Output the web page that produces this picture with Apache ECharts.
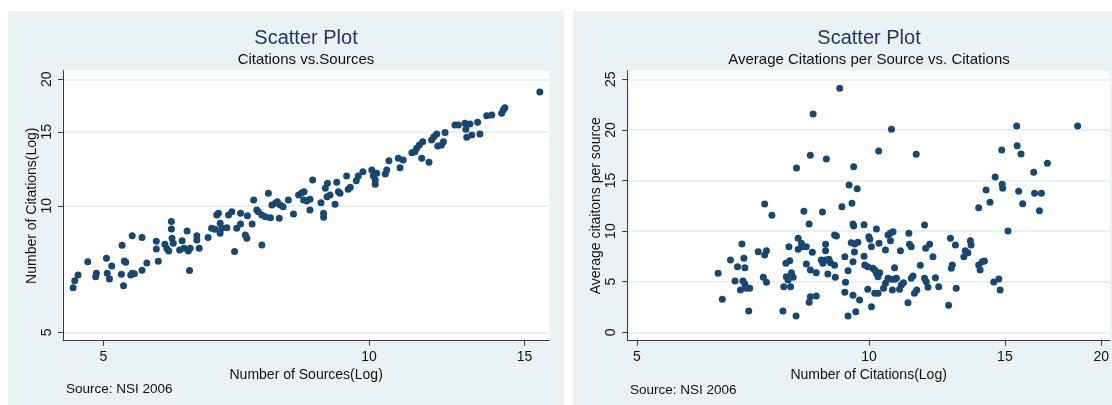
<!DOCTYPE html>
<html><head><meta charset="utf-8">
<script src="https://cdn.jsdelivr.net/npm/echarts@6/dist/echarts.min.js"></script>
<style>html,body{margin:0;padding:0;background:#fff}#c{width:1112px;height:405px}</style>
</head><body><div id="c"></div>
<script>
// Left panel: Number of Sources (log) vs Number of Citations (log)
const sourcesLeft = [4.62,4.64,4.68,4.80,4.90,4.91,5.04,5.05,5.08,5.11,5.25,5.28,5.30,5.24,5.27,5.37,5.39,5.42,5.39,5.53,5.53,5.60,5.77,5.74,5.74,5.87,5.90,5.93,5.97,5.97,5.98,6.00,6.10,6.14,6.22,6.17,6.24,6.27,6.26,6.38,6.38,6.42,6.57,6.63,6.69,6.72,6.75,6.78,6.81,6.78,6.90,6.93,6.99,7.04,7.08,
7.15,7.28,7.37,7.15,7.24,7.27,7.56,7.40,7.46,7.49,7.56,7.63,7.69,7.73,7.76,7.83,7.87,7.93,7.99,7.91,8.10,8.21,8.32,8.39,8.44,8.43,8.50,8.57,8.57,8.63,8.82,8.88,8.88,8.92,8.97,8.96,9.03,9.15,9.19,9.23,9.27,9.43,9.47,9.52,9.67,9.72,9.84,10.07,10.11,10.16,10.16,10.20,10.43,10.47,10.53,10.79,10.93,10.84,11.18,11.27,11.32,11.40,11.47,11.50,11.69,11.77,11.84,11.93,11.96,12.08,12.14,12.19,12.51,12.62,12.84,13.01,12.87,12.90,13.07,13.27,13.35,13.59,13.77,14.13,14.19,14.25,15.61];
const citationsLeft = [6.38,6.63,6.84,7.36,6.78,6.91,7.50,6.91,6.70,7.19,8.05,7.39,7.34,6.87,6.45,6.84,6.91,6.89,8.48,8.40,7.02,7.31,7.38,8.23,7.89,8.10,7.91,7.81,9.17,8.81,8.37,8.14,7.85,8.26,8.71,7.92,7.81,7.92,7.01,8.49,8.29,7.92,8.40,8.84,8.79,9.51,9.60,9.09,8.84,8.60,8.87,9.51,9.68,7.78,8.84,
9.60,9.47,9.05,9.05,8.52,8.37,8.07,10.32,9.77,9.68,9.51,9.42,10.71,9.37,10.04,10.14,10.23,10.04,9.95,9.34,10.32,9.56,10.61,10.74,10.80,10.32,10.27,10.36,9.77,11.52,10.17,9.60,9.39,11.01,11.31,10.51,10.61,10.08,11.38,10.80,10.71,11.77,10.95,11.07,11.47,11.77,12.05,12.17,11.77,11.52,11.25,11.95,11.90,12.17,12.80,12.97,12.85,12.32,13.38,13.45,13.70,13.95,12.97,14.21,12.69,14.34,14.60,14.82,13.88,13.95,14.21,14.93,15.57,15.57,15.72,15.66,15.21,14.56,14.74,15.80,14.82,16.38,16.45,16.60,16.90,17.12,18.66];

// Right panel: Number of Citations (log) vs Average citations per source
const citationsRight = [6.37,6.45,6.61,6.70,6.75,6.84,6.88,6.90,6.86,6.90,6.81,6.93,7.00,6.98,7.18,7.32,7.36,7.29,7.36,7.32,7.48,7.73,7.75,7.81,7.85,7.91,7.93,7.97,7.80,7.89,7.87,8.05,8.04,8.09,8.17,8.21,8.29,8.09,8.23,8.29,8.36,8.39,8.39,8.39,8.36,8.54,8.46,8.44,8.54,8.67,8.71,8.78,8.87,8.91,9.02,8.70,8.78,8.78,8.80,8.84,9.02,9.07,9.04,9.16,9.22,9.32,9.30,9.30,9.39,9.39,9.42,9.50,9.53,9.55,9.48,9.58,9.67,9.53,9.53,9.55,9.57,9.61,9.65,9.72,9.85,9.85,9.87,9.96,10.11,10.17,10.22,10.32,10.27,9.96,9.99,10.02,10.07,10.07,10.17,10.27,10.22,10.29,10.30,10.50,10.44,10.50,10.58,10.69,10.79,10.85,10.58,10.65,10.74,10.66,10.69,10.72,10.79,10.95,11.01,11.08,10.98,11.23,11.26,11.28,11.34,11.34,11.40,11.45,11.53,11.51,11.65,11.80,11.80,11.86,11.92,11.84,11.98,12.10,12.19,12.31,12.68,12.75,12.78,12.82,12.94,12.97,13.27,13.33,13.43,13.53,13.56,13.87,13.87,13.93,14.02,14.11,14.18,14.35,14.51,14.73,14.57,14.79,14.86,14.88,14.90,15.14,15.54,15.56,15.63,15.74,15.82,16.35,16.39,16.73,16.63,17.03,18.64];
const avgCitationsRight = [5.83,3.26,7.14,5.07,6.48,8.73,7.31,6.38,5.07,4.77,4.18,4.35,4.35,2.10,7.96,7.64,8.06,5.43,4.94,12.68,11.56,2.10,4.51,5.49,5.17,4.51,5.89,5.43,6.82,7.08,8.46,16.24,1.61,9.29,8.79,8.46,8.46,8.20,11.96,6.75,10.70,17.49,6.16,3.52,2.96,3.59,21.57,7.91,5.89,7.14,6.82,7.14,7.21,6.88,6.62,11.89,8.70,8.06,17.12,5.76,9.61,9.52,5.43,24.11,12.41,4.94,3.95,7.47,6.09,1.61,14.56,12.75,10.70,10.50,8.85,8.73,8.89,6.98,3.66,16.36,7.93,2.04,14.19,3.19,10.63,7.51,6.65,6.48,6.32,6.16,5.83,5.89,5.49,4.25,9.45,9.19,8.46,2.53,3.85,3.85,10.21,17.92,8.79,8.13,4.35,4.84,5.34,5.24,5.24,5.34,9.61,9.78,9.94,9.05,20.06,4.18,6.38,4.25,4.67,4.90,8.06,2.92,9.78,8.70,8.46,5.34,5.56,3.85,4.18,17.59,6.62,10.60,5.34,5.00,4.45,8.30,8.70,7.47,5.40,4.51,2.67,9.29,6.32,6.65,8.63,4.35,7.47,8.06,7.87,9.05,8.63,12.31,6.65,6.16,6.98,7.05,14.06,12.85,4.97,5.27,15.35,4.18,18.01,14.62,14.23,10.01,20.39,18.44,13.93,17.62,12.71,15.81,13.74,13.74,12.02,16.70,20.39];

const leftXTicks = [5, 10, 15];
const leftYTicks = [5, 10, 15, 20];
const rightXTicks = [5, 10, 15, 20];
const rightYTicks = [0, 5, 10, 15, 20, 25];

const FONT = "'Liberation Sans', Arial, sans-serif";
const NAVY = '#1a476f';
const PANEL = '#eaf2f3';
const GRIDC = '#e3edef';
const AXC = '#3a3a3a';

function zip(a, b) { return a.map((v, i) => [v, b[i]]); }

function axisCommon(ticks, isY) {
  return {
    axisLine: { show: true, onZero: false, lineStyle: { color: AXC, width: 1 } },
    axisTick: { show: true, length: 5, customValues: ticks, lineStyle: { color: AXC } },
    axisLabel: { customValues: ticks, fontFamily: FONT, fontSize: 14, color: '#111', margin: 9, rotate: isY ? 90 : 0 },
    splitLine: { show: isY, lineStyle: { color: GRIDC, width: 1.5 } },
    nameLocation: 'middle',
    nameTextStyle: { fontFamily: FONT, fontSize: 14, color: '#111' }
  };
}

const chart = echarts.init(document.getElementById('c'), null, { renderer: 'canvas' });
chart.setOption({
  animation: false,
  backgroundColor: '#ffffff',
  textStyle: { fontFamily: FONT },
  graphic: [
    { type: 'rect', z: -10, silent: true, shape: { x: 8, y: 11, width: 556, height: 394 }, style: { fill: PANEL } },
    { type: 'rect', z: -10, silent: true, shape: { x: 573, y: 11, width: 539, height: 394 }, style: { fill: PANEL } },
    { type: 'text', silent: true, style: { text: 'Scatter Plot', x: 306, y: 38, textAlign: 'center', textVerticalAlign: 'middle', font: "20px 'Liberation Sans', Arial", fill: '#1f3563' } },
    { type: 'text', silent: true, style: { text: 'Citations vs.Sources', x: 306, y: 59.5, textAlign: 'center', textVerticalAlign: 'middle', font: "15px 'Liberation Sans', Arial", fill: '#111' } },
    { type: 'text', silent: true, style: { text: 'Scatter Plot', x: 869, y: 38, textAlign: 'center', textVerticalAlign: 'middle', font: "20px 'Liberation Sans', Arial", fill: '#1f3563' } },
    { type: 'text', silent: true, style: { text: 'Average Citations per Source vs. Citations', x: 869, y: 59.5, textAlign: 'center', textVerticalAlign: 'middle', font: "15px 'Liberation Sans', Arial", fill: '#111' } },
    { type: 'text', silent: true, style: { text: 'Source: NSI 2006', x: 66, y: 389, textAlign: 'left', textVerticalAlign: 'middle', font: "13.5px 'Liberation Sans', Arial", fill: '#111' } },
    { type: 'text', silent: true, style: { text: 'Source: NSI 2006', x: 630, y: 390, textAlign: 'left', textVerticalAlign: 'middle', font: "13.5px 'Liberation Sans', Arial", fill: '#111' } }
  ],
  grid: [
    { left: 63, top: 70.7, width: 486.3, height: 270, show: true, backgroundColor: '#fff', borderWidth: 0 },
    { left: 627.3, top: 70.7, width: 484, height: 270, show: true, backgroundColor: '#fff', borderWidth: 0 }
  ],
  xAxis: [
    Object.assign(axisCommon(leftXTicks, false), { type: 'log', logBase: 10, gridIndex: 0, min: 4.5, max: 16.0, name: 'Number of Sources(Log)', nameGap: 22 }),
    Object.assign(axisCommon(rightXTicks, false), { type: 'log', logBase: 10, gridIndex: 1, min: 4.857, max: 20.53, name: 'Number of Citations(Log)', nameGap: 22 })
  ],
  yAxis: [
    Object.assign(axisCommon(leftYTicks, true), { type: 'log', logBase: 10, gridIndex: 0, min: 4.775, max: 20.96, name: 'Number of Citations(Log)', nameGap: 24 }),
    Object.assign(axisCommon(rightYTicks, true), { type: 'value', gridIndex: 1, min: -0.83, max: 25.85, name: 'Average citaitons per source', nameGap: 23 })
  ],
  series: [
    { type: 'scatter', xAxisIndex: 0, yAxisIndex: 0, data: zip(sourcesLeft, citationsLeft), symbol: 'circle', symbolSize: 7, itemStyle: { color: NAVY, opacity: 1 }, z: 3 },
    { type: 'scatter', xAxisIndex: 1, yAxisIndex: 1, data: zip(citationsRight, avgCitationsRight), symbol: 'circle', symbolSize: 7, itemStyle: { color: NAVY, opacity: 1 }, z: 3 }
  ]
});
</script>
</body></html>
